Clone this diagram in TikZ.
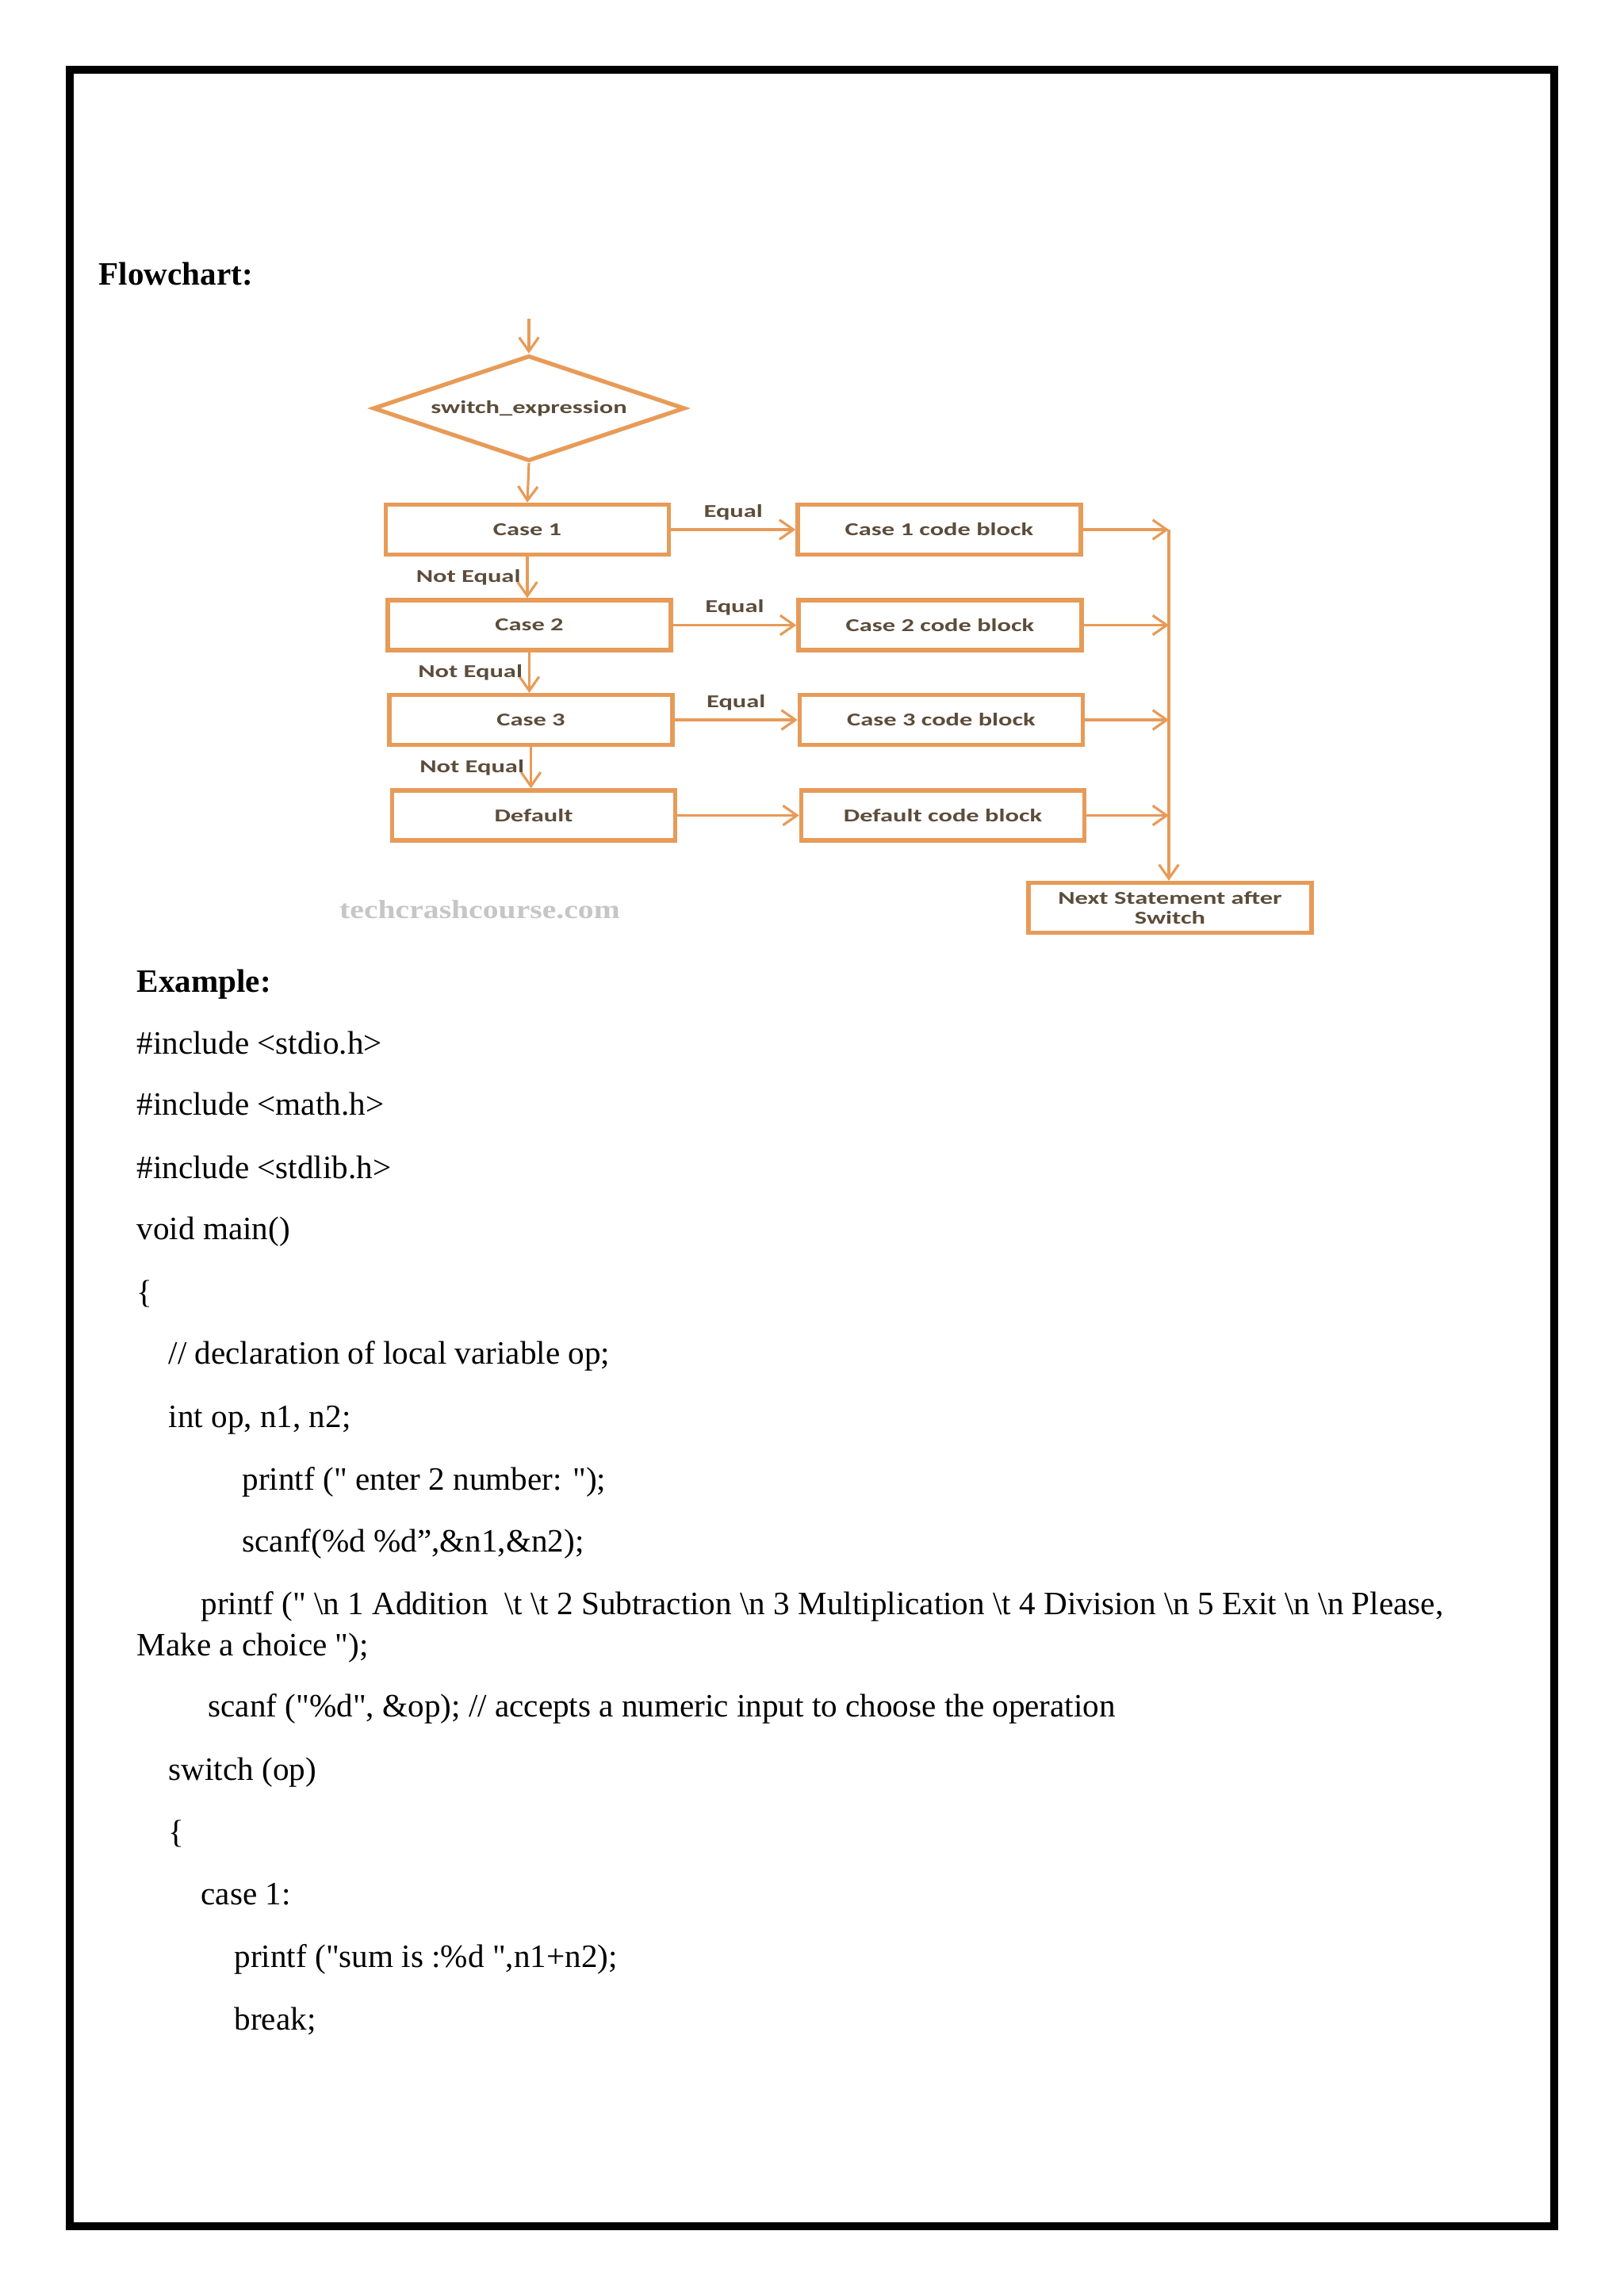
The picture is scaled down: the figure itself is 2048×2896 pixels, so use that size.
\documentclass[tikz,border=0pt]{standalone}
\usepackage{fontspec}
\setmainfont{Liberation Serif}[Ligatures=TeXOff]
\newfontfamily\flowfont[FakeStretch=1.42]{Carlito}
\newfontfamily\markfont[FakeStretch=1.2]{Liberation Serif}
\usetikzlibrary{shapes.geometric,arrows.meta}
\definecolor{flowline}{RGB}{231,155,88}
\definecolor{flowtext}{RGB}{92,76,58}
\newcommand{\bsl}{\textbackslash}

\begin{document}
\begin{tikzpicture}[x=0.01cm,y=-0.01cm,
  box/.style={draw=flowline,line width=1.5pt,minimum width=3.57cm,minimum height=0.63cm,inner sep=0pt,text=flowtext,font=\flowfont\bfseries\fontsize{6.5}{7}\selectfont},
  lbl/.style={text=flowtext,font=\flowfont\bfseries\fontsize{6.5}{7}\selectfont},
  flow/.style={draw=flowline,line width=0.9pt,-{Straight Barb[length=5pt,width=7pt]}},
  code/.style={anchor=base west,inner sep=0pt,font=\fontsize{11.7}{14}\selectfont}]
\useasboundingbox (0,0) rectangle (2048,2896);
\draw[line width=3pt] (88,88) rectangle (1960,2808);

\node[code,font=\bfseries\fontsize{11.7}{14}\selectfont] (head) at (124,359) {Flowchart:};

\coordinate (start) at (667,402);
\node[diamond,aspect=2.95,draw=flowline,line width=1.5pt,minimum width=3.93cm,minimum height=1.33cm,inner sep=0pt,lbl] (expr) at (667,515) {switch\_expression};
\node[box] (c1) at (665,668) {Case 1};
\node[box] (c2) at (667.5,788.5) {Case 2};
\node[box] (c3) at (669.5,908) {Case 3};
\node[box] (def) at (673,1028.5) {Default};
\node[box] (b1) at (1184.5,668) {Case 1 code block};
\node[box] (b2) at (1185.5,788.5) {Case 2 code block};
\node[box] (b3) at (1187,908) {Case 3 code block};
\node[box] (bd) at (1189,1028.5) {Default code block};
\node[box,align=center,font=\flowfont\bfseries\fontsize{6.5}{6.9}\selectfont] (next) at (1475.5,1145) {Next Statement after\\Switch};
\coordinate (j1) at (1474,668);
\coordinate (j2) at (1474,788.5);
\coordinate (j3) at (1474,908);
\coordinate (j4) at (1474,1028.5);
\node[text=gray!45,font=\markfont\bfseries\fontsize{9.4}{11}\selectfont] (mark) at (605,1147) {techcrashcourse.com};

\draw[flow] (start) -- (expr.north);
\draw[flow] (expr.south) -- (c1.north);
\draw[flow] (c1.south) -- (c1.south |- c2.north) node[midway,left,lbl,inner sep=2pt] (ne1) {Not Equal};
\draw[flow] (c2.south) -- (c2.south |- c3.north) node[midway,left,lbl,inner sep=2pt] (ne2) {Not Equal};
\draw[flow] (c3.south) -- (c3.south |- def.north) node[midway,left,lbl,inner sep=2pt] (ne3) {Not Equal};
\draw[flow] (c1.east) -- (b1.west) node[midway,above,lbl,inner sep=3pt] (eq1) {Equal};
\draw[flow] (c2.east) -- (b2.west) node[midway,above,lbl,inner sep=3pt] (eq2) {Equal};
\draw[flow] (c3.east) -- (b3.west) node[midway,above,lbl,inner sep=3pt] (eq3) {Equal};
\draw[flow] (def.east) -- (bd.west);
\draw[flow] (b1.east) -- (j1);
\draw[flow] (b2.east) -- (j2);
\draw[flow] (b3.east) -- (j3);
\draw[flow] (bd.east) -- (j4);
\draw[flow] (j1) -- (j1 |- next.north);

\node[code,font=\bfseries\fontsize{11.7}{14}\selectfont] (ex) at (172,1251) {Example:};
\node[code] (inc1) at (172,1329) {\#include <stdio.h>};
\node[code] (inc2) at (172,1406) {\#include <math.h>};
\node[code] (inc3) at (172,1486) {\#include <stdlib.h>};
\node[code] (mainl) at (172,1563) {void main()};
\node[code] (open1) at (172,1643) {\{};
\node[code] (cmt) at (212,1720) {// declaration of local variable op;};
\node[code] (decl) at (212,1800) {int op, n1, n2;};
\node[code] (pr1) at (305,1879) {printf (" enter 2 number: ");};
\node[code] (sc1) at (305,1957) {scanf(\%d \%d”,\&n1,\&n2);};
\node[code] (pr2) at (253,2036) {printf (" \bsl n 1 Addition\ \ \bsl t \bsl t 2 Subtraction \bsl n 3 Multiplication \bsl t 4 Division \bsl n 5 Exit \bsl n \bsl n Please,};
\node[code] (pr2b) at (172,2088) {Make a choice ");};
\node[code] (sc2) at (262,2165) {scanf ("\%d", \&op); // accepts a numeric input to choose the operation};
\node[code] (swl) at (212,2245) {switch (op)};
\node[code] (open2) at (212,2324) {\{};
\node[code] (cs1) at (253,2402) {case 1:};
\node[code] (pr3) at (295,2481) {printf ("sum is :\%d ",n1+n2);};
\node[code] (brk) at (295,2560) {break;};
\end{tikzpicture}
\end{document}
